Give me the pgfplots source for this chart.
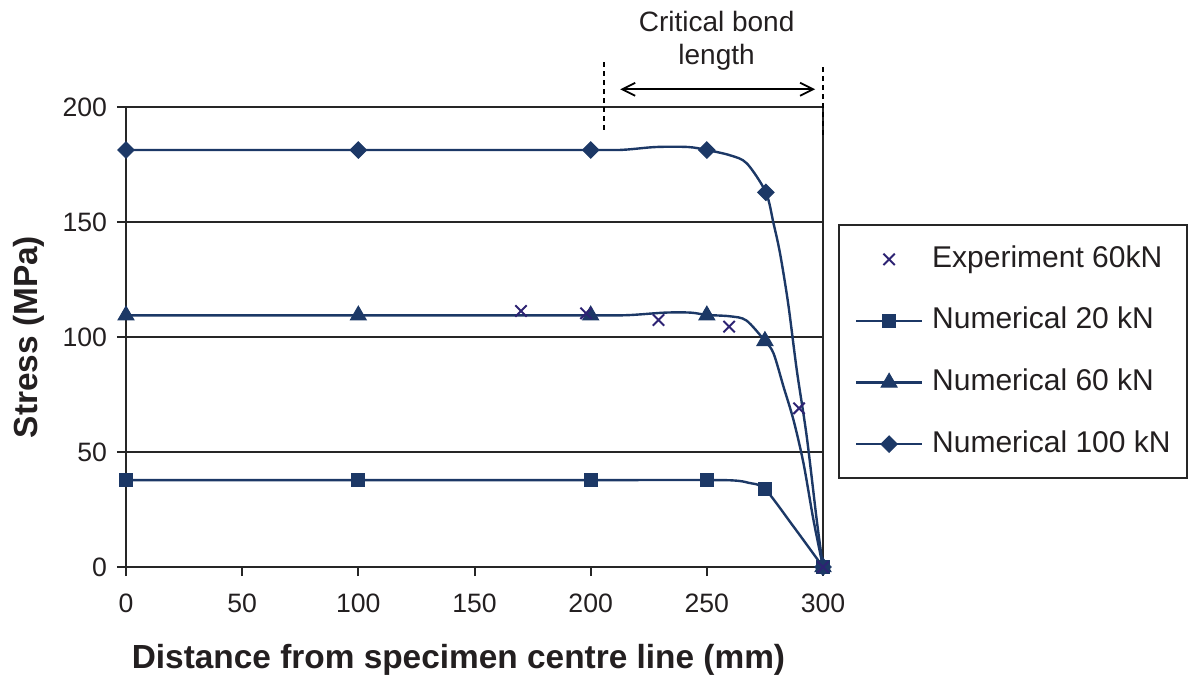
\documentclass[border=0pt]{standalone}
\usepackage{fontspec}
\setmainfont{Liberation Sans}
\usepackage{pgfplots}
\pgfplotsset{compat=1.18}
\usetikzlibrary{arrows.meta}
\definecolor{navy}{RGB}{28,56,102}
\definecolor{xcol}{RGB}{45,35,115}
\definecolor{txt}{RGB}{35,31,32}

\begin{document}
\begin{tikzpicture}
\begin{axis}[
 name=ax,
 width=348.5pt, height=230pt, scale only axis,
 xmin=0, xmax=300, ymin=0, ymax=200,
 xtick={0,50,...,300}, ytick={0,50,...,200},
 ymajorgrids, grid style={line width=1pt, black!85},
 axis line style={line width=1pt, black!85},
 xtick pos=lower, ytick pos=left,
 tick align=outside,
 major tick length=4.5pt,
 tick style={line width=1pt, black!85},
 ticklabel style={font=\fontsize{13.3}{16}\selectfont, text=txt},
 xticklabel style={yshift=-5.5pt},
 yticklabel style={xshift=-1.5pt},
 /pgf/number format/assume math mode=true,
 clip=false,
 xlabel={Distance from specimen centre line (mm)},
 ylabel={Stress (MPa)},
 label style={font=\bfseries\fontsize{16.7}{19}\selectfont, text=txt},
 xlabel style={at={([yshift=-46.5pt]rel axis cs:0.477,0)}, anchor=center},
 ylabel style={at={([xshift=-48.5pt]rel axis cs:0,0.5)}, anchor=center},
 legend image code/.code={\draw[mark repeat=2,mark phase=2,#1] plot coordinates {(0pt,0pt) (16.5pt,0pt) (33pt,0pt)};},
 legend cell align=left,
 legend style={at={([xshift=7.5pt]rel axis cs:1,0.468)}, anchor=west,
   draw=black!85, line width=1pt, inner xsep=8pt, inner ysep=10pt,
   row sep=16.8pt, column sep=4.5pt,
   font=\fontsize{15}{18}\selectfont, text=txt,
   nodes={inner sep=0pt, text height=11pt, text depth=3pt}},
]
\addlegendimage{only marks, mark=x, xcol, mark size=4pt, line width=1pt}
\addlegendentry{Experiment 60kN}
\addlegendimage{navy, line width=1.1pt, mark=square*, mark size=3.2pt, mark options={line width=0.5pt}}
\addlegendentry{Numerical 20 kN}
\addlegendimage{navy, line width=1.1pt, mark=triangle*, mark size=4.6pt, mark options={line width=0.5pt}}
\addlegendentry{Numerical 60 kN}
\addlegendimage{navy, line width=1.1pt, mark=square*, mark size=2.9pt, mark options={rotate=45, line width=0.5pt}}
\addlegendentry{Numerical 100 kN}

% Numerical 20 kN
\addplot[navy, line width=1.2pt, smooth, forget plot] coordinates {
 (0,37.8) (100,37.8) (200,37.8) (250,37.8) (262,37.6) (268,36.6) (275,33.9) (287,18) (300,0)};
\addplot[navy, only marks, mark=square*, mark size=3.2pt, mark options={line width=0.5pt}, forget plot] coordinates {
 (0,37.8) (100,37.8) (200,37.8) (250,37.8) (275,33.9) (300,0)};

% Numerical 60 kN
\addplot[navy, line width=1.2pt, smooth, forget plot] coordinates {
 (0,109.4) (100,109.4) (200,109.4) (216,109.5) (232,110.6) (243,110.6) (250,109.6) (260,109) (267,107.2) (275,98.3)
 (278.7,92.9) (283,78.4) (287.3,63.9) (291.6,45.1) (295.9,20.4) (300,0)};
\addplot[navy, only marks, mark=triangle*, mark size=4.6pt, mark options={line width=0.5pt}, forget plot] coordinates {
 (0,109.4) (100,109.4) (200,109.4) (250,109.4) (275,98.3) (300,0)};

% Numerical 100 kN
\addplot[navy, line width=1.2pt, smooth, forget plot] coordinates {
 (0,181.3) (100,181.3) (200,181.3) (214,181.4) (228,182.6) (242,182.6) (250,181.3) (260,179) (267.2,175.5) (275.4,162.9)
 (278.7,149.4) (281.5,136.4) (285,114.6) (288.7,85.7) (293,56.7) (297.3,20.4) (300,0)};
\addplot[navy, only marks, mark=square*, mark size=2.9pt, mark options={rotate=45, line width=0.5pt}, forget plot] coordinates {
 (0,181.3) (100,181.3) (200,181.3) (250,181.3) (275.4,162.9) (300,0)};

% Experiment 60 kN
\addplot[xcol, only marks, mark=x, mark size=4pt, line width=1pt, forget plot] coordinates {
 (170,111.3) (198,110.3) (229.2,107.4) (259.6,104.5) (289.7,69) (300,0)};

% Critical bond length annotation
\draw[black, line width=0.7pt, dash pattern=on 2.5pt off 2pt] (axis cs:205.8,190) -- (axis cs:205.8,220.4);
\draw[black, line width=0.7pt, dash pattern=on 2.5pt off 2pt] (axis cs:300,187.8) -- (axis cs:300,218.3);
\draw[black, line width=0.9pt, {Straight Barb[length=6.5pt,width=6.5pt]}-{Straight Barb[length=6.5pt,width=6.5pt]}]
  (axis cs:212.7,207.7) -- (axis cs:296.6,207.7);
\node[align=center, font=\fontsize{14}{16.5}\selectfont, text=txt] at (axis cs:254.2,228.6) {Critical bond\\length};
\end{axis}
\pgfresetboundingbox
\path ([shift={(-63pt,-56.5pt)}]ax.south west) rectangle ([shift={(533pt,283.5pt)}]ax.south west);
\end{tikzpicture}
\end{document}
